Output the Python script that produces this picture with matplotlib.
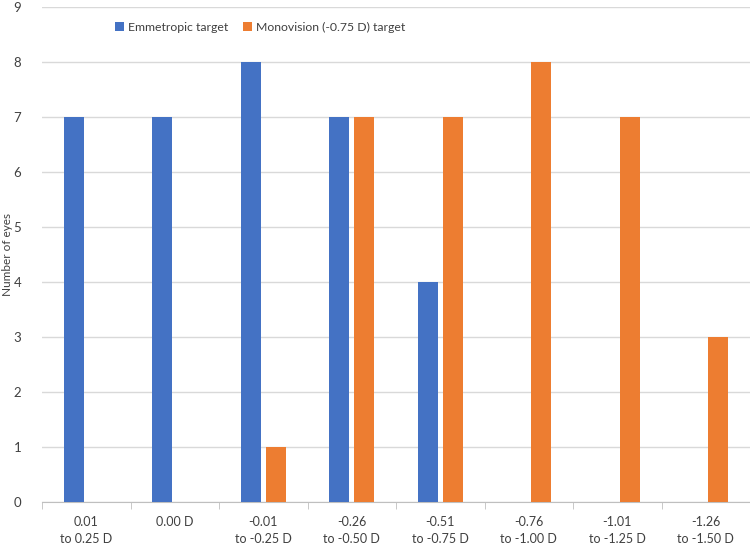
import numpy as np
import matplotlib.pyplot as plt

# Refraction categories and counts
categories = ['0.01\nto 0.25 D', '0.00 D', '-0.01\nto -0.25 D', '-0.26\nto -0.50 D',
              '-0.51\nto -0.75 D', '-0.76\nto -1.00 D', '-1.01\nto -1.25 D', '-1.26\nto -1.50 D']
emmetropic = [7, 7, 8, 7, 4, 0, 0, 0]
monovision = [0, 0, 1, 7, 7, 8, 7, 3]

plt.rcParams['font.family'] = ['Lato', 'DejaVu Sans']

fig = plt.figure(figsize=(7.5, 5.46), dpi=100)
ax = fig.add_axes([0.056, 0.081, 0.944, 0.906])

x = np.arange(len(categories))
w = 0.225
off = 0.14
ax.bar(x - off, emmetropic, w, color='#4472C4', label='Emmetropic target', zorder=3)
ax.bar(x + off, monovision, w, color='#ED7D31', label='Monovision (-0.75 D) target', zorder=3)

ax.set_xlim(-0.5, len(categories) - 0.5)
ax.set_ylim(0, 9)
ax.set_yticks(range(10))
ax.yaxis.grid(True, color='#D9D9D9', linewidth=1, zorder=0)
ax.set_axisbelow(True)

ax.set_xticks(x)
ax.set_xticklabels(categories, fontsize=9, color='#404040', linespacing=1.5)
ax.set_xticks(np.arange(-0.5, len(categories)), minor=True)
ax.tick_params(axis='x', which='major', length=0, pad=10)
ax.tick_params(axis='x', which='minor', length=5, color='#BFBFBF')
ax.tick_params(axis='y', length=0, labelsize=9.5, labelcolor='#404040', pad=15)

for s in ['top', 'right', 'left']:
    ax.spines[s].set_visible(False)
ax.spines['bottom'].set_color('#BFBFBF')

ax.set_ylabel('Number of eyes', fontsize=8.5, color='#404040', labelpad=0)

fig.legend(loc='center', bbox_to_anchor=(0.347, 0.95), ncol=2, frameon=False,
           fontsize=8.8, handlelength=0.7, handleheight=0.7, handletextpad=0.35,
           columnspacing=1.2, labelcolor='#404040')

fig.savefig('out.png', dpi=100)
